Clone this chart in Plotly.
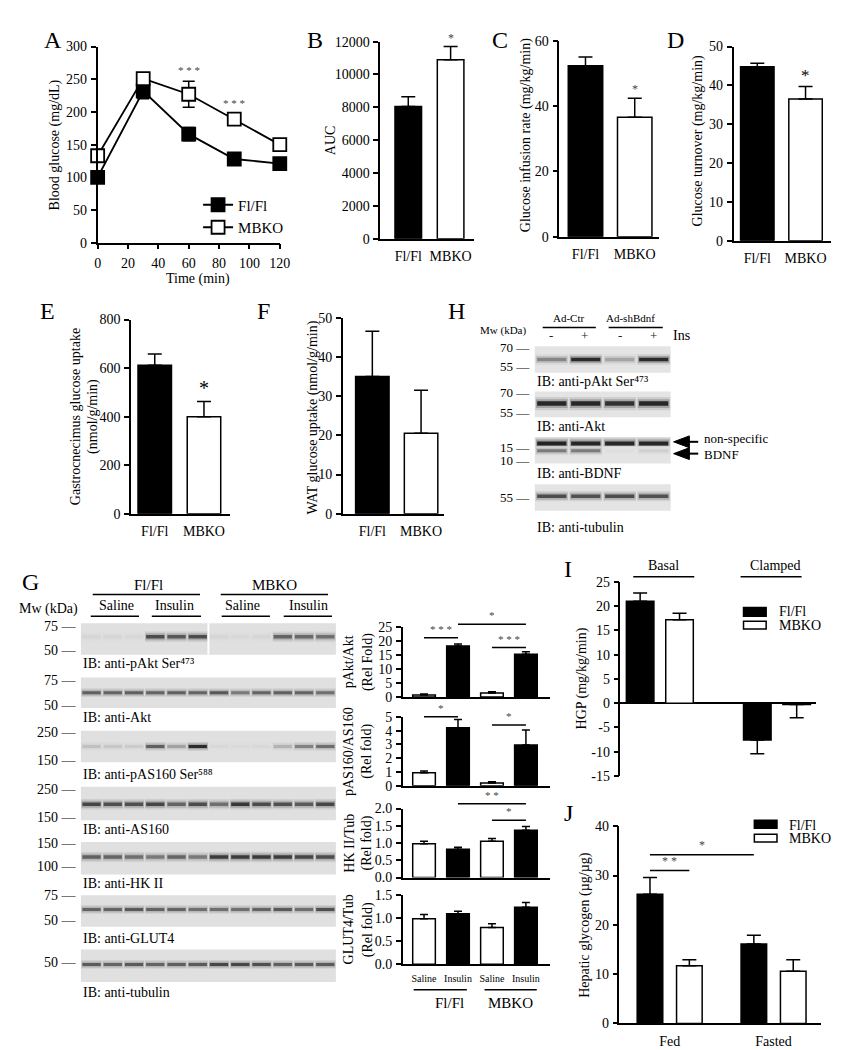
import plotly.graph_objects as go

W, H = 842, 1050
FONT = "Liberation Serif"
STAR_GRAY = "#444444"

# ---------------- data ----------------
A_time = [0, 30, 60, 90, 120]
A_flfl = [100, 232, 166, 128, 121]
A_flfl_sem = [8, 12, 10, 6, 5]
A_mbko = [133, 251, 227, 189, 150]
A_mbko_sem = [10, 7, 20, 8, 7]
A_sig = ["", "", "* * *", "* * *", ""]

genotypes = ["Fl/Fl", "MBKO"]
B_auc = [8050, 10900]
B_auc_sem = [600, 800]
B_sig = ["", "*"]
C_gir = [52.3, 36.6]
C_gir_sem = [2.7, 5.8]
C_sig = ["", "*"]
D_turnover = [44.8, 36.5]
D_turnover_sem = [0.9, 3.2]
D_sig = ["", "*"]
E_gastro = [612, 400]
E_gastro_sem = [46, 63]
E_sig = ["", "*"]
F_wat = [35.0, 20.5]
F_wat_sem = [11.5, 11.0]

G_treatment = ["Saline", "Insulin", "Saline", "Insulin"]
G_genotype = ["Fl/Fl", "Fl/Fl", "MBKO", "MBKO"]
G_pakt = [0.8, 18.3, 1.5, 15.3]
G_pakt_sem = [0.3, 0.7, 0.4, 0.9]
G_pas160 = [0.95, 4.2, 0.2, 2.95]
G_pas160_sem = [0.12, 0.6, 0.1, 1.1]
G_hk2 = [0.98, 0.82, 1.05, 1.37]
G_hk2_sem = [0.07, 0.06, 0.08, 0.11]
G_glut4 = [0.99, 1.10, 0.80, 1.24]
G_glut4_sem = [0.09, 0.05, 0.08, 0.10]
# significance brackets: (from bar, to bar, height, label)
G_pakt_sig = [(0, 1, 21.2, "* * *"), (1, 3, 26.0, "*"), (2, 3, 17.7, "* * *")]
G_pas160_sig = [(0, 1, 5.0, "*"), (2, 3, 4.4, "*")]
G_hk2_sig = [(1, 3, 2.14, "* *"), (2, 3, 1.66, "*")]

# western blot band intensities (0 = none, 1 = black), 12 lanes
G_blot_pakt = [0.05, 0.05, 0.04, 0.72, 0.66, 0.72, 0.05, 0.04, 0.05, 0.6, 0.58, 0.55]
G_blot_akt = [0.62, 0.6, 0.62, 0.6, 0.62, 0.6, 0.66, 0.5, 0.6, 0.62, 0.6, 0.55]
G_blot_pas160 = [0.15, 0.12, 0.1, 0.62, 0.3, 0.88, 0.04, 0.03, 0.04, 0.22, 0.45, 0.55]
G_blot_as160 = [0.75, 0.7, 0.7, 0.75, 0.6, 0.72, 0.55, 0.82, 0.72, 0.7, 0.65, 0.75]
G_blot_hk2 = [0.62, 0.6, 0.55, 0.5, 0.6, 0.5, 0.8, 0.8, 0.8, 0.8, 0.75, 0.72]
G_blot_glut4 = [0.6, 0.6, 0.65, 0.6, 0.6, 0.55, 0.55, 0.55, 0.6, 0.65, 0.55, 0.7]
G_blot_tub = [0.65, 0.6, 0.65, 0.6, 0.62, 0.65, 0.75, 0.75, 0.7, 0.62, 0.65, 0.65]
# panel H, 4 lanes
H_blot_pakt = [0.45, 0.88, 0.3, 0.88]
H_blot_akt = [0.9, 0.9, 0.85, 0.9]
H_blot_nonspec = [0.92, 0.9, 0.9, 0.9]
H_blot_bdnf = [0.5, 0.5, 0.03, 0.1]
H_blot_tub = [0.72, 0.7, 0.72, 0.7]

I_conditions = ["Basal", "Clamped"]
I_flfl = [21.0, -7.6]
I_flfl_sem = [1.7, 2.8]
I_mbko = [17.2, -0.3]
I_mbko_sem = [1.3, 2.7]

J_states = ["Fed", "Fasted"]
J_flfl = [26.2, 16.1]
J_flfl_sem = [3.4, 1.8]
J_mbko = [11.7, 10.6]
J_mbko_sem = [1.2, 2.3]
J_sig = [(0, 31.0, "* *"), (1, 34.2, "*")]

# ---------------- helpers ----------------
fig = go.Figure()
L = dict(width=W, height=H, margin=dict(l=0, r=0, t=0, b=0),
         paper_bgcolor="white", plot_bgcolor="white", barmode="overlay",
         font=dict(family=FONT, size=14, color="black"), showlegend=True)
ann, shp = [], []
counter = [0]


def axes(x0, x1, ytop, ybot, xa, ya):
    counter[0] += 1
    n = counter[0]
    s = "" if n == 1 else str(n)
    xa = dict(xa)
    ya = dict(ya)
    xa.update(domain=[x0 / W, x1 / W], anchor="y" + s, fixedrange=True)
    ya.update(domain=[1 - ybot / H, 1 - ytop / H], anchor="x" + s, fixedrange=True)
    L["xaxis" + s] = xa
    L["yaxis" + s] = ya
    return "x" + s, "y" + s


def txt(x, y, t, size=14, color="black", xanchor="center", yanchor="middle", angle=0):
    ann.append(dict(x=x / W, y=1 - y / H, xref="paper", yref="paper", text=t,
                    showarrow=False, xanchor=xanchor, yanchor=yanchor, textangle=angle,
                    font=dict(family=FONT, size=size, color=color)))


def seg(x0, y0, x1, y1, w=1.5, color="black"):
    shp.append(dict(type="line", xref="paper", yref="paper", x0=x0 / W, y0=1 - y0 / H,
                    x1=x1 / W, y1=1 - y1 / H, line=dict(color=color, width=w)))


def rect(x0, y0, x1, y1, fill):
    shp.append(dict(type="rect", xref="paper", yref="paper", x0=x0 / W, y0=1 - y1 / H,
                    x1=x1 / W, y1=1 - y0 / H, fillcolor=fill, line=dict(color="black", width=1.5)))


def arrow_left(xtip, y, length=25, head=16, half=6):
    p = lambda x, yy: "%.5f,%.5f" % (x / W, 1 - yy / H)
    shp.append(dict(type="path", xref="paper", yref="paper",
                    path="M" + p(xtip, y) + " L" + p(xtip + head, y - half) + " L" +
                         p(xtip + head, y + half) + " Z",
                    fillcolor="black", line=dict(color="black", width=1)))
    seg(xtip + head - 1, y, xtip + length, y, w=2)


def yax(rng, dtick, fmt=None, size=14, tickvals=None):
    d = dict(range=rng, dtick=dtick, tick0=0, showline=True, linecolor="black", linewidth=1.5,
             ticks="outside", ticklen=5, tickwidth=1.5, tickcolor="black", showgrid=False,
             zeroline=False, tickfont=dict(family=FONT, size=size, color="black"),
             ticklabelstandoff=1, tickformat=fmt if fmt else "d")
    if tickvals is not None:
        d.update(tickmode="array", tickvals=tickvals, ticktext=[str(v) for v in tickvals])
    return d


def catx(g, cats, labels, show=True, size=14):
    step = g["step"]
    d = dict(type="category", range=[(g["x0"] - g["c0"]) / step, (g["x1"] - g["c0"]) / step],
             showline=show, linecolor="black", linewidth=1.5, ticks="", showgrid=False,
             zeroline=False, showticklabels=labels is not None)
    if labels is not None:
        d.update(tickmode="array", tickvals=cats, ticktext=labels,
                 tickfont=dict(family=FONT, size=size, color="black"), ticklabelstandoff=4)
    return d


def ymap(g, rng, v):
    return g["ybot"] - (v - rng[0]) / (rng[1] - rng[0]) * (g["ybot"] - g["ytop"])


def bar_panel(g, cats, means, sems, colors, rng, dtick, labels=None, fmt=None,
              errw=7, label_size=14, sig=None, sig_size=12, sig_color=STAR_GRAY):
    xr, yr = axes(g["x0"], g["x1"], g["ytop"], g["ybot"],
                  catx(g, cats, labels, True, label_size), yax(rng, dtick, fmt))
    fig.add_trace(go.Bar(x=cats, y=means, width=g["bw"] / g["step"],
                         marker=dict(color=colors, line=dict(color="black", width=1.5)),
                         error_y=dict(type="data", symmetric=False, array=sems,
                                      arrayminus=[0] * len(sems), color="black",
                                      thickness=1.5, width=errw),
                         xaxis=xr, yaxis=yr, showlegend=False, hoverinfo="skip"))
    if sig:
        for i, s in enumerate(sig):
            if s:
                ann.append(dict(x=i, y=means[i] + sems[i], xref=xr, yref=yr, text=s,
                                showarrow=False, yanchor="bottom", yshift=0,
                                font=dict(family=FONT, size=sig_size, color=sig_color)))
    return xr, yr


def brackets(g, rng, sig, size=12):
    for i, j, v, lab in sig:
        xa = g["c0"] + i * g["step"]
        xb = g["c0"] + j * g["step"]
        yy = ymap(g, rng, v)
        seg(xa, yy, xb, yy)
        txt((xa + xb) / 2, yy - 1, lab, size=size, color=STAR_GRAY, yanchor="bottom")


def gray(bgv, t):
    v = int(round(bgv - t * (bgv - 18)))
    return "rgb(%d,%d,%d)" % (v, v, v)


def blot(x0, x1, ytop, ybot, bands, bgv, split=None):
    n = len(bands[0][0])
    xa = dict(range=[-0.5, n - 0.5], visible=False)
    ya = dict(range=[0, 1], visible=False)
    xr, yr = axes(x0, x1, ytop, ybot, xa, ya)
    shp.append(dict(type="rect", xref=xr + " domain", yref=yr + " domain", x0=0, x1=1,
                    y0=0, y1=1, fillcolor=gray(bgv, 0), line=dict(width=0), layer="below"))
    hpx = ybot - ytop
    lanes = list(range(n))
    for inten, frac, th in bands:
        center = 1 - frac
        for scale, wmul, alpha in [(3.0, 0.97, 0.12), (2.0, 0.93, 0.35), (1.0, 0.86, 1.0)]:
            h = th * scale / hpx
            fig.add_trace(go.Bar(x=lanes, y=[h] * n, base=[center - h / 2] * n, width=wmul,
                                 marker=dict(color=[gray(bgv, i * alpha) for i in inten],
                                             line=dict(width=0)),
                                 xaxis=xr, yaxis=yr, showlegend=False, hoverinfo="skip"))
    if split is not None:
        shp.append(dict(type="line", xref=xr, yref=yr + " domain", x0=split, x1=split,
                        y0=0, y1=1, line=dict(color="white", width=2)))
    return xr, yr


# ---------------- panel A ----------------
xa_A = dict(range=[0, 120], dtick=20, tick0=0, showline=True, linecolor="black", linewidth=1.5,
            ticks="outside", ticklen=5, tickwidth=1.5, tickcolor="black", showgrid=False,
            zeroline=False, tickfont=dict(family=FONT, size=14, color="black"), ticklabelstandoff=2)
xA, yA = axes(88, 273, 32, 231, xa_A, yax([0, 300], 50))
for name, vals, sems, fill in [("Fl/Fl", A_flfl, A_flfl_sem, "black"),
                               ("MBKO", A_mbko, A_mbko_sem, "white")]:
    fig.add_trace(go.Scatter(x=A_time, y=vals, name=name, mode="lines+markers",
                             line=dict(color="black", width=1.8),
                             marker=dict(symbol="square", size=13, color=fill,
                                         line=dict(color="black", width=1.8)),
                             error_y=dict(type="data", array=sems, color="black",
                                          thickness=1.5, width=6),
                             cliponaxis=False, xaxis=xA, yaxis=yA, legend="legend"))
for t, v, s, lab in zip(A_time, A_mbko, A_mbko_sem, A_sig):
    if lab:
        ann.append(dict(x=t, y=v + s, xref=xA, yref=yA, text=lab, showarrow=False,
                        yanchor="bottom", yshift=3,
                        font=dict(family=FONT, size=11, color=STAR_GRAY)))
txt(190, 268, "Time (min)")
txt(45, 132, "Blood glucose (mg/dL)", angle=-90)
L["legend"] = dict(x=190 / W, y=1 - 176 / H, xanchor="left", yanchor="top",
                   bgcolor="rgba(0,0,0,0)", font=dict(family=FONT, size=15))

# ---------------- panels B-F ----------------
bw_colors = ["black", "white"]
gB = dict(x0=375, x1=470, ytop=27, ybot=227, c0=403.5, step=43, bw=27)
bar_panel(gB, genotypes, B_auc, B_auc_sem, bw_colors, [0, 12000], 2000, labels=genotypes,
          sig=B_sig, sig_size=12)
txt(324, 127, "AUC", angle=-90)

gC = dict(x0=557, x1=658, ytop=26, ybot=225, c0=583.5, step=50, bw=35)
bar_panel(gC, genotypes, C_gir, C_gir_sem, bw_colors, [0, 60], 20, labels=genotypes,
          sig=C_sig, sig_size=12)
txt(523, 122, "Glucose infusion rate (mg/kg/min)", angle=-90)

gD = dict(x0=734, x1=833, ytop=32, ybot=229, c0=758, step=49, bw=34)
bar_panel(gD, genotypes, D_turnover, D_turnover_sem, bw_colors, [0, 50], 10, labels=genotypes,
          sig=D_sig, sig_size=17, sig_color="black")
txt(698, 128, "Glucose turnover (mg/kg/min)", angle=-90)

gE = dict(x0=122, x1=222, ytop=309, ybot=506, c0=146, step=50, bw=34)
bar_panel(gE, genotypes, E_gastro, E_gastro_sem, bw_colors, [0, 800], 200, labels=genotypes,
          sig=E_sig, sig_size=20, sig_color="black")
txt(65, 407, "Gastrocnecimus glucose uptake", angle=-90)
txt(83, 407, "(nmol/g/min)", angle=-90)

gF = dict(x0=337, x1=440, ytop=307, ybot=506, c0=367, step=49.5, bw=34)
bar_panel(gF, genotypes, F_wat, F_wat_sem, bw_colors, [0, 50], 10, labels=genotypes)
txt(307, 408, "WAT glucose uptake (nmol/g/min)", angle=-90)

# ---------------- panel H (blots) ----------------
txt(500, 320, "Mw (kDa)", size=11)
txt(567, 307, "Ad-Ctr", size=11)
seg(540, 317, 594, 317)
txt(629, 307, "Ad-shBdnf", size=11)
seg(607, 317, 662, 317)
for xx, sgn in zip([548, 583, 619, 653], ["-", "+", "-", "+"]):
    txt(xx, 325, sgn, size=13, color="#222222")
txt(681, 325, "Ins", size=14)

blot(532, 670, 336, 363, [(H_blot_pakt, 0.5, 3.5)], 228)
blot(532, 670, 382, 408, [(H_blot_akt, 0.47, 4.5)], 228)
blot(532, 670, 428, 455, [(H_blot_nonspec, 0.25, 4.0), (H_blot_bdnf, 0.52, 3.0)], 228)
blot(532, 670, 476, 503, [(H_blot_tub, 0.45, 3.5)], 228)
for lab, yy in [("70", 337), ("55", 357), ("70", 383), ("55", 403), ("15", 439),
                ("10", 452), ("55", 489)]:
    txt(529, yy, lab + " \u2014", size=13, xanchor="right")
txt(532, 372, "IB: anti-pAkt Ser\u2074\u2077\u00b3", size=14, xanchor="left")
txt(532, 417, "IB: anti-Akt", size=14, xanchor="left")
txt(532, 465, "IB: anti-BDNF", size=14, xanchor="left")
txt(532, 520, "IB: anti-tubulin", size=14, xanchor="left")
arrow_left(673, 433)
arrow_left(673, 445)
txt(702, 430, "non-specific", size=13, xanchor="left")
txt(702, 446, "BDNF", size=13, xanchor="left")

# ---------------- panel G (blots) ----------------
txt(140, 578, "Fl/Fl", size=15)
seg(83, 588, 192, 588)
txt(268, 578, "MBKO", size=15)
seg(213, 588, 322, 588)
for xx, lab, a, b in [(107, "Saline", 81, 130), (166, "Insulin", 143, 193),
                      (235, "Saline", 214, 263), (302, "Insulin", 277, 326)]:
    txt(xx, 599, lab, size=14)
    seg(a, 610, b, 610)
txt(38, 603, "Mw (kDa)", size=14)

g_rows = [
    (617, 649, G_blot_pakt, 0.43, 3.5, 5.5, "IB: anti-pAkt Ser\u2074\u2077\u00b3", 658, [("75", 620), ("50", 645)]),
    (672, 703, G_blot_akt, 0.5, 3.0, None, "IB: anti-Akt", 713, [("75", 675), ("50", 700)]),
    (726, 758, G_blot_pas160, 0.5, 3.0, None, "IB: anti-pAS160 Ser\u2075\u2078\u2078", 771, [("250", 728), ("150", 756)]),
    (783, 817, G_blot_as160, 0.52, 3.5, None, "IB: anti-AS160", 826, [("250", 786), ("150", 814)]),
    (839, 872, G_blot_hk2, 0.46, 3.5, None, "IB: anti-HK II", 881, [("150", 840), ("100", 864)]),
    (893, 925, G_blot_glut4, 0.45, 3.0, None, "IB: anti-GLUT4", 937, [("75", 893), ("50", 919)]),
    (948, 981, G_blot_tub, 0.46, 3.0, None, "IB: anti-tubulin", 992, [("50", 961)]),
]
for yt, yb, inten, frac, th, split, lab, ly, mws in g_rows:
    blot(71, 330, yt, yb, [(inten, frac, th)], 224, split=split)
    txt(71, ly, lab, size=14, xanchor="left")
    for m, yy in mws:
        txt(69, yy, m + " \u2014", size=14, xanchor="right")

# ---------------- panel G (bar charts) ----------------
G_keys = [t + " " + g for t, g in zip(G_treatment, G_genotype)]
G_colors = ["white", "black", "white", "black"]
g1 = dict(x0=398, x1=547, ytop=621, ybot=692, c0=419.5, step=34.5, bw=23)
bar_panel(g1, G_keys, G_pakt, G_pakt_sem, G_colors, [0, 25], 5, errw=4)
brackets(g1, [0, 25], G_pakt_sig, size=11)
txt(343, 656, "pAkt/Akt", angle=-90)
txt(362, 656, "(Rel Fold)", angle=-90)

g2 = dict(g1, ytop=712, ybot=782)
bar_panel(g2, G_keys, G_pas160, G_pas160_sem, G_colors, [0, 5], 1, errw=4)
brackets(g2, [0, 5], G_pas160_sig, size=11)
txt(343, 747, "pAS160/AS160", angle=-90)
txt(362, 747, "(Rel fold)", angle=-90)

g3 = dict(g1, ytop=805, ybot=875)
bar_panel(g3, G_keys, G_hk2, G_hk2_sem, G_colors, [0, 2], 0.5, fmt=".1f", errw=4)
brackets(g3, [0, 2], G_hk2_sig, size=11)
txt(343, 840, "HK II/Tub", angle=-90)
txt(362, 840, "(Rel fold)", angle=-90)

g4 = dict(g1, ytop=893, ybot=963)
bar_panel(g4, G_keys, G_glut4, G_glut4_sem, G_colors, [0, 1.5], 0.5, fmt=".1f", errw=4,
          labels=G_treatment, label_size=10)
txt(343, 928, "GLUT4/Tub", angle=-90)
txt(362, 928, "(Rel fold)", angle=-90)
seg(409, 989, 463, 989)
seg(481, 989, 534, 989)
txt(445, 1002, "Fl/Fl", size=15)
txt(507, 1002, "MBKO", size=15)


# ---------------- grouped panels I & J ----------------
def group_panel(g, cats, series, rng, ya, show_labels):
    step = g["step"]
    xa = dict(type="category", range=[(g["x0"] - g["c0"]) / step, (g["x1"] - g["c0"]) / step],
              showline=show_labels, linecolor="black", linewidth=1.5, ticks="", showgrid=False,
              zeroline=False, showticklabels=show_labels,
              tickfont=dict(family=FONT, size=14, color="black"), ticklabelstandoff=4)
    xr, yr = axes(g["x0"], g["x1"], g["ytop"], g["ybot"], xa, ya)
    for name, means, sems, color, off in series:
        up = [s if m >= 0 else 0 for m, s in zip(means, sems)]
        dn = [s if m < 0 else 0 for m, s in zip(means, sems)]
        fig.add_trace(go.Bar(x=cats, y=means, name=name, offset=(off - g["bw"] / 2) / step,
                             width=g["bw"] / step,
                             marker=dict(color=color, line=dict(color="black", width=1.5)),
                             error_y=dict(type="data", symmetric=False, array=up, arrayminus=dn,
                                          color="black", thickness=1.5, width=7),
                             xaxis=xr, yaxis=yr, showlegend=False, hoverinfo="skip"))
    return xr, yr


gI = dict(x0=619, x1=818, ytop=575, ybot=772, c0=659, step=119, bw=28)
yI = yax([-15, 25], 5, tickvals=[-15, -10, -5, 0, 5, 10, 15, 20, 25])
yI.update(zeroline=True, zerolinecolor="black", zerolinewidth=1.5)
group_panel(gI, I_conditions,
            [("Fl/Fl", I_flfl, I_flfl_sem, "black", -20), ("MBKO", I_mbko, I_mbko_sem, "white", 20)],
            [-15, 25], yI, False)
txt(663, 558, "Basal", size=14)
seg(632, 570, 694, 570)
txt(776, 558, "Clamped", size=14)
seg(741, 570, 803, 570)
rect(744, 601, 767, 610, "black")
rect(744, 615, 767, 623, "white")
txt(778, 605, "Fl/Fl", size=14, xanchor="left")
txt(778, 619, "MBKO", size=14, xanchor="left")
txt(580, 673, "HGP (mg/kg/min)", angle=-90)

gJ = dict(x0=618, x1=823, ytop=823, ybot=1023, c0=669, step=105.5, bw=26)
group_panel(gJ, J_states,
            [("Fl/Fl", J_flfl, J_flfl_sem, "black", -20), ("MBKO", J_mbko, J_mbko_sem, "white", 20)],
            [0, 40], yax([0, 40], 10), True)
fed_fl = gJ["c0"] - 20
for tgt, v, lab in J_sig:
    xb = gJ["c0"] + 20 if tgt == 0 else gJ["c0"] + gJ["step"] - 20
    yy = ymap(gJ, [0, 40], v)
    seg(fed_fl, yy, xb, yy)
    txt((fed_fl + xb) / 2, yy - 1, lab, size=12, color=STAR_GRAY, yanchor="bottom")
rect(755, 817, 778, 825, "black")
rect(755, 831, 778, 839, "white")
txt(788, 822, "Fl/Fl", size=14, xanchor="left")
txt(788, 835, "MBKO", size=14, xanchor="left")
txt(583, 923, "Hepatic glycogen (\u00b5g/\u00b5g)", angle=-90)

# ---------------- panel letters ----------------
for lab, x, y in [("A", 43, 25), ("B", 309, 25), ("C", 497, 25), ("D", 675, 25),
                  ("E", 37, 300), ("F", 256, 300), ("H", 452, 300), ("G", 20, 575),
                  ("I", 566, 562), ("J", 566, 810)]:
    txt(x, y, lab, size=24)

L["annotations"] = ann
L["shapes"] = shp
fig.update_layout(**L)
fig.write_html("out.html")
